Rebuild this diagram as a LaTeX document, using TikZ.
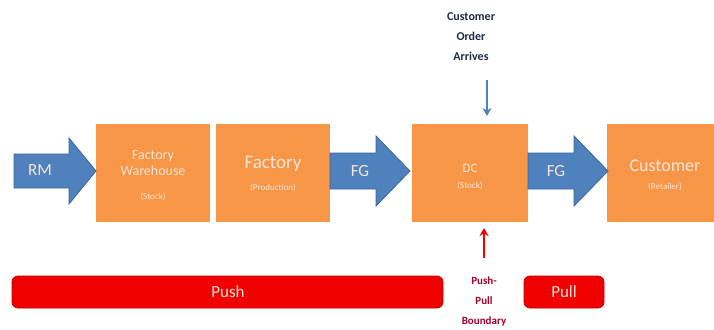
\documentclass[tikz,border=0pt]{standalone}
\usepackage{fontspec}
\setmainfont{Carlito}
\usetikzlibrary{arrows.meta}
\definecolor{boxorange}{HTML}{F79646}
\definecolor{arrblue}{HTML}{4F81BD}
\definecolor{arrblueedge}{HTML}{3A679E}
\definecolor{barred}{HTML}{F00000}
\definecolor{barrededge}{HTML}{C00000}
\definecolor{boundred}{HTML}{A0002A}
\definecolor{boxtext}{HTML}{F6E4D6}
\definecolor{navytext}{HTML}{1F2A44}
\tikzset{
  stage/.style={fill=boxorange, draw=none},
  bigarrow/.style={fill=arrblue, draw=arrblueedge, line width=0.8pt},
  bar/.style={fill=barred, draw=barrededge, line width=0.8pt, rounded corners=6pt},
  boxlbl/.style={text=boxtext, align=center},
}
\begin{document}
\begin{tikzpicture}[x=1pt,y=-1pt]
\useasboundingbox (0,0) rectangle (714,329);
% stages
\fill[stage] (96,124) rectangle (210,222);
\fill[stage] (216,124) rectangle (330,222);
\fill[stage] (412,124) rectangle (528,222);
\fill[stage] (607,124) rectangle (714,222);
% arrows
\draw[bigarrow] (14,154) -- (69,154) -- (69,138) -- (96,171) -- (69,204) -- (69,188) -- (14,188) -- cycle;
\draw[bigarrow] (330,153) -- (376,153) -- (376,136) -- (410,171) -- (376,206) -- (376,189) -- (330,189) -- cycle;
\draw[bigarrow] (528,153) -- (574,153) -- (574,136) -- (608,171) -- (574,206) -- (574,189) -- (528,189) -- cycle;
\node[boxlbl, font=\fontsize{17}{19}\selectfont] (rm) at (40,170) {RM};
\node[boxlbl, font=\fontsize{17}{19}\selectfont] (fg1) at (360,171) {FG};
\node[boxlbl, font=\fontsize{17}{19}\selectfont] (fg2) at (556,171) {FG};
% stage labels
\node[boxlbl, font=\fontsize{14}{16}\selectfont] (fw) at (153,163) {Factory\\Warehouse};
\node[boxlbl, font=\fontsize{9}{10}\selectfont] (fwsub) at (153,197) {(Stock)};
\node[boxlbl, font=\fontsize{19}{21}\selectfont] (fac) at (273,164) {Factory};
\node[boxlbl, font=\fontsize{9}{10}\selectfont] (facsub) at (273,188) {(Production)};
\node[boxlbl, font=\fontsize{13}{14}\selectfont] (dc) at (470,168) {DC};
\node[boxlbl, font=\fontsize{9}{10}\selectfont] (dcsub) at (470,186) {(Stock)};
\node[boxlbl, font=\fontsize{18}{20}\selectfont] (cust) at (665,166) {Customer};
\node[boxlbl, font=\fontsize{9}{10}\selectfont] (custsub) at (665,187) {(Retailer)};
% customer order
\node[text=navytext, font=\bfseries\fontsize{12}{20}\selectfont, align=center] (order) at (471,37) {Customer\\Order\\Arrives};
\coordinate (ordtop) at (487,80);
\coordinate (ordbot) at (487,116);
\draw[arrblue, line width=1.6pt, -{Stealth[length=8pt,width=9pt]}] (ordtop) -- (ordbot);
% push-pull boundary
\coordinate (bndbot) at (484,258);
\coordinate (bndtop) at (484,228);
\draw[barred, line width=1.8pt, -{Stealth[length=8pt,width=9pt]}] (bndbot) -- (bndtop);
\node[text=boundred, font=\bfseries\fontsize{11}{20}\selectfont, align=center] (bnd) at (484,302) {Push-\\Pull\\Boundary};
% bars
\draw[bar] (12,276) rectangle (443,308);
\node[boxlbl, font=\fontsize{17}{19}\selectfont] (push) at (228,292) {Push};
\draw[bar] (524,276) rectangle (604,308);
\node[boxlbl, font=\fontsize{17}{19}\selectfont] (pull) at (564,292) {Pull};
\end{tikzpicture}
\end{document}
